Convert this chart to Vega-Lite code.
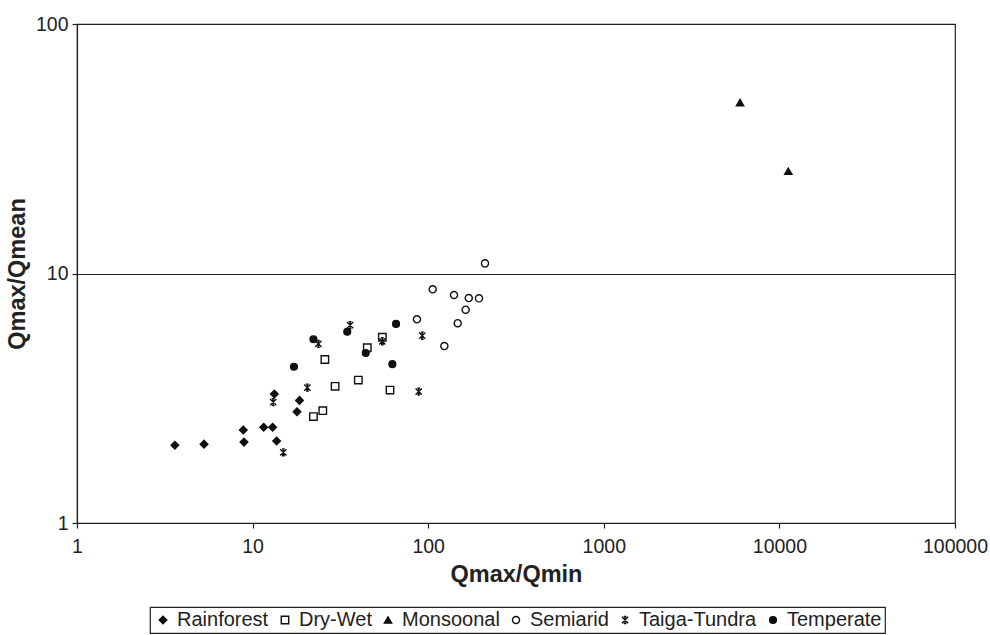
{
  "$schema": "https://vega.github.io/schema/vega-lite/v6.json",
  "width": 878,
  "height": 499,
  "autosize": {"type": "none"},
  "padding": {"left": 77, "top": 24, "right": 35, "bottom": 112},
  "background": "white",
  "config": {
    "font": "Liberation Sans",
    "view": {"stroke": "#222", "strokeWidth": 1.2},
    "axis": {"labelFont": "Liberation Sans", "titleFont": "Liberation Sans", "labelColor": "#222", "titleColor": "#222", "domainColor": "#222", "tickColor": "#222", "labelFontSize": 19.5, "titleFontSize": 23.5, "titleFontWeight": "bold", "tickSize": 5, "domainWidth": 1.2, "tickWidth": 1.2},
    "legend": {"orient": "none", "legendX": 73, "legendY": 583, "direction": "horizontal", "title": null,
      "labelFontSize": 20, "labelFont": "Liberation Sans", "labelColor": "#222", "strokeColor": "#222", "strokeWidth": 1.2, "padding": 3,
      "symbolStrokeColor": "#111", "symbolStrokeWidth": 1.3, "columnPadding": 6, "labelOffset": 4, "symbolOpacity": 1}
  },
  "data": {"values": [
    {"x": 3.61, "y": 2.05, "Type": "Rainforest"},
    {"x": 5.29, "y": 2.07, "Type": "Rainforest"},
    {"x": 8.85, "y": 2.36, "Type": "Rainforest"},
    {"x": 8.93, "y": 2.11, "Type": "Rainforest"},
    {"x": 11.57, "y": 2.42, "Type": "Rainforest"},
    {"x": 13.0, "y": 2.42, "Type": "Rainforest"},
    {"x": 13.7, "y": 2.13, "Type": "Rainforest"},
    {"x": 13.3, "y": 3.29, "Type": "Rainforest"},
    {"x": 18.5, "y": 3.1, "Type": "Rainforest"},
    {"x": 17.9, "y": 2.79, "Type": "Rainforest"},
    {"x": 25.8, "y": 4.52, "Type": "Dry-Wet"},
    {"x": 29.5, "y": 3.53, "Type": "Dry-Wet"},
    {"x": 25.1, "y": 2.82, "Type": "Dry-Wet"},
    {"x": 22.2, "y": 2.67, "Type": "Dry-Wet"},
    {"x": 54.8, "y": 5.55, "Type": "Dry-Wet"},
    {"x": 45.0, "y": 5.04, "Type": "Dry-Wet"},
    {"x": 40.0, "y": 3.74, "Type": "Dry-Wet"},
    {"x": 60.6, "y": 3.41, "Type": "Dry-Wet"},
    {"x": 5970, "y": 48.4, "Type": "Monsoonal"},
    {"x": 11240, "y": 25.7, "Type": "Monsoonal"},
    {"x": 86.3, "y": 6.55, "Type": "Semiarid"},
    {"x": 106.1, "y": 8.64, "Type": "Semiarid"},
    {"x": 140.3, "y": 8.2, "Type": "Semiarid"},
    {"x": 170.2, "y": 7.97, "Type": "Semiarid"},
    {"x": 194.6, "y": 7.95, "Type": "Semiarid"},
    {"x": 163.4, "y": 7.16, "Type": "Semiarid"},
    {"x": 147.2, "y": 6.32, "Type": "Semiarid"},
    {"x": 123.6, "y": 5.12, "Type": "Semiarid"},
    {"x": 210.6, "y": 10.98, "Type": "Semiarid"},
    {"x": 13.1, "y": 3.05, "Type": "Taiga-Tundra"},
    {"x": 14.96, "y": 1.92, "Type": "Taiga-Tundra"},
    {"x": 20.5, "y": 3.49, "Type": "Taiga-Tundra"},
    {"x": 23.7, "y": 5.22, "Type": "Taiga-Tundra"},
    {"x": 35.9, "y": 6.21, "Type": "Taiga-Tundra"},
    {"x": 92.5, "y": 5.63, "Type": "Taiga-Tundra"},
    {"x": 54.8, "y": 5.35, "Type": "Taiga-Tundra"},
    {"x": 88.3, "y": 3.36, "Type": "Taiga-Tundra"},
    {"x": 22.2, "y": 5.45, "Type": "Temperate"},
    {"x": 17.2, "y": 4.23, "Type": "Temperate"},
    {"x": 34.6, "y": 5.84, "Type": "Temperate"},
    {"x": 65.6, "y": 6.28, "Type": "Temperate"},
    {"x": 44.1, "y": 4.8, "Type": "Temperate"},
    {"x": 62.5, "y": 4.33, "Type": "Temperate"}
  ]},
  "mark": {"type": "point", "stroke": "#111", "strokeWidth": 1.4, "opacity": 1},
  "encoding": {
    "x": {"field": "x", "type": "quantitative", "title": "Qmax/Qmin",
      "scale": {"type": "log", "domain": [1, 100000], "nice": false},
      "axis": {"values": [1, 10, 100, 1000, 10000, 100000], "format": "d", "grid": false, "labelPadding": 9, "titlePadding": 7, "labelFlush": false}},
    "y": {"field": "y", "type": "quantitative", "title": "Qmax/Qmean",
      "scale": {"type": "log", "domain": [1, 100], "nice": false},
      "axis": {"values": [1, 10, 100], "format": "d", "grid": true, "gridColor": "#222", "gridWidth": 1.2, "gridOpacity": 1, "labelPadding": 4, "titlePadding": 6, "labelFlush": false}},
    "shape": {"field": "Type", "type": "nominal", "title": null,
      "scale": {"domain": ["Rainforest", "Dry-Wet", "Monsoonal", "Semiarid", "Taiga-Tundra", "Temperate"],
        "range": ["diamond", "square", "triangle-up", "circle", "M-0.9,-0.9L0.9,0.9M-0.9,0.9L0.9,-0.9M-0.4,-1L0.4,-1M-0.4,1L0.4,1M0,-1L0,1", "circle"]},
      "legend": {"encode": {"symbols": {"update": {"stroke": {"value": "#111"}, "strokeWidth": {"value": 1.4}}}}}},
    "fill": {"field": "Type", "type": "nominal", "title": null,
      "scale": {"domain": ["Rainforest", "Dry-Wet", "Monsoonal", "Semiarid", "Taiga-Tundra", "Temperate"],
        "range": ["#111", "white", "#111", "white", "transparent", "#111"]},
      "legend": {"encode": {"symbols": {"update": {"stroke": {"value": "#111"}, "strokeWidth": {"value": 1.4}}}}}},
    "size": {"field": "Type", "type": "nominal", "title": null,
      "scale": {"domain": ["Rainforest", "Dry-Wet", "Monsoonal", "Semiarid", "Taiga-Tundra", "Temperate"],
        "range": [58, 46, 62, 38, 64, 52]},
      "legend": {"encode": {"symbols": {"update": {"stroke": {"value": "#111"}, "strokeWidth": {"value": 1.4}}}}}}
  }
}
